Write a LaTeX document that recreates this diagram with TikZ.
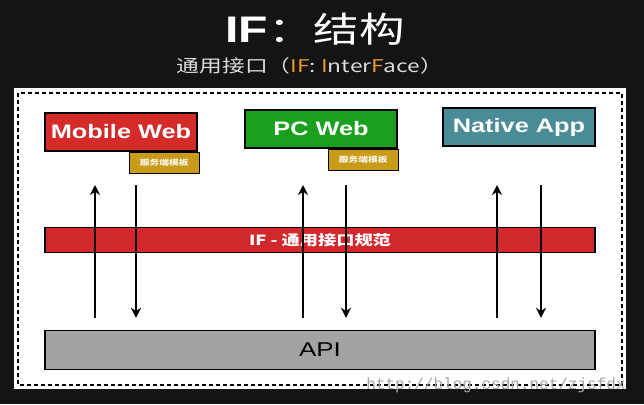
\documentclass[tikz,border=0pt]{standalone}
\usepackage{fontspec}
\setmainfont{Liberation Sans}
\newfontfamily\wideFont[FakeStretch=1.3]{Liberation Sans}
\newfontfamily\cjkFont[FakeStretch=1.3]{Noto Sans CJK SC}
\newfontfamily\urlFont{Liberation Mono}
\usepackage{tikz}
\usetikzlibrary{positioning, arrows.meta}
\definecolor{slide}{RGB}{20,20,20}
\definecolor{mobilered}{RGB}{212,42,42}
\definecolor{ifred}{RGB}{208,40,44}
\definecolor{pcgreen}{RGB}{26,160,30}
\definecolor{nativeteal}{RGB}{74,140,150}
\definecolor{tplgold}{RGB}{200,155,26}
\definecolor{apigray}{RGB}{163,163,163}
\definecolor{ifOrange}{RGB}{232,154,42}
\definecolor{subGray}{RGB}{220,220,220}
\tikzset{>={Stealth[length=10pt, width=10pt]}, node distance=200pt,
	client/.style={draw=black, line width=1.4pt, minimum width=152pt, minimum height=38pt, text=white, font=\wideFont\bfseries\fontsize{19.5}{19.5}\selectfont},
	tpl/.style={draw=black, line width=1pt, fill=tplgold, minimum width=70pt, minimum height=21pt, inner sep=0pt, text=white!90!tplgold, font=\cjkFont\bfseries\fontsize{7.5}{7.5}\selectfont},
	bar/.style={draw=black, line width=1.4pt, minimum width=550pt, inner sep=0pt},
	flow/.style={->, line width=1.6pt}}

\begin{document}
\begin{tikzpicture}[x=1pt, y=-1pt]
	\fill[slide] (0,0) rectangle (644,404);
	\fill[white] (14,88) rectangle (626,389);
	\draw[black, line width=1.8pt, dash pattern=on 4pt off 3pt] (18,93) rectangle (622,385);
	\node[text=white] (Title) at (315,29) {{\wideFont\bfseries\fontsize{37}{37}\selectfont IF}{\cjkFont\fontsize{35}{35}\selectfont ：结构}};
	\node[font=\cjkFont\fontsize{17.5}{17.5}\selectfont, text=subGray] (Subtitle) at (310,66) {通用接口（\textcolor{ifOrange}{IF}: \textcolor{ifOrange}{I}nter\textcolor{ifOrange}{F}ace）};
	\node[client, fill=mobilered] (Mobile Web) at (121,132) {Mobile Web};
	\node[client, fill=pcgreen, right of=Mobile Web, yshift=3pt] (PC Web) {PC Web};
	\node[client, fill=nativeteal, right of=PC Web, yshift=2pt, xshift=-2pt] (Native App) {Native App};
	\node[tpl, anchor=north east] (Mobile Tpl) at ([xshift=2pt]Mobile Web.south east) {服务端模板};
	\node[tpl, anchor=north east] (PC Tpl) at ([xshift=1pt]PC Web.south east) {服务端模板};
	\node[bar, fill=ifred, minimum height=25pt, text=white, font=\cjkFont\bfseries\fontsize{14}{14}\selectfont] (IF Bar) at (320,240) {IF - 通用接口规范};
	\node[bar, fill=apigray, minimum height=39pt, font=\wideFont\fontsize{20}{20}\selectfont] (API) at (320,350) {API};
	\coordinate (Mobile Up) at (95,185);
	\coordinate (Mobile Down) at (136,185);
	\coordinate (PC Up) at (303,185);
	\coordinate (PC Down) at (346,185);
	\coordinate (Native Up) at (497,185);
	\coordinate (Native Down) at (541,185);
	\draw[flow] ([yshift=12pt]API.north -| Mobile Up) -- (Mobile Up);
	\draw[flow] (Mobile Down) -- ([yshift=12pt]API.north -| Mobile Down);
	\draw[flow] ([yshift=12pt]API.north -| PC Up) -- (PC Up);
	\draw[flow] (PC Down) -- ([yshift=12pt]API.north -| PC Down);
	\draw[flow] ([yshift=12pt]API.north -| Native Up) -- (Native Up);
	\draw[flow] (Native Down) -- ([yshift=12pt]API.north -| Native Down);
	\node[font=\urlFont\fontsize{16}{16}\selectfont, text=black!35] (Watermark) at (496,385) {http://blog.csdn.net/zjsfdx};
\end{tikzpicture}
\end{document}
